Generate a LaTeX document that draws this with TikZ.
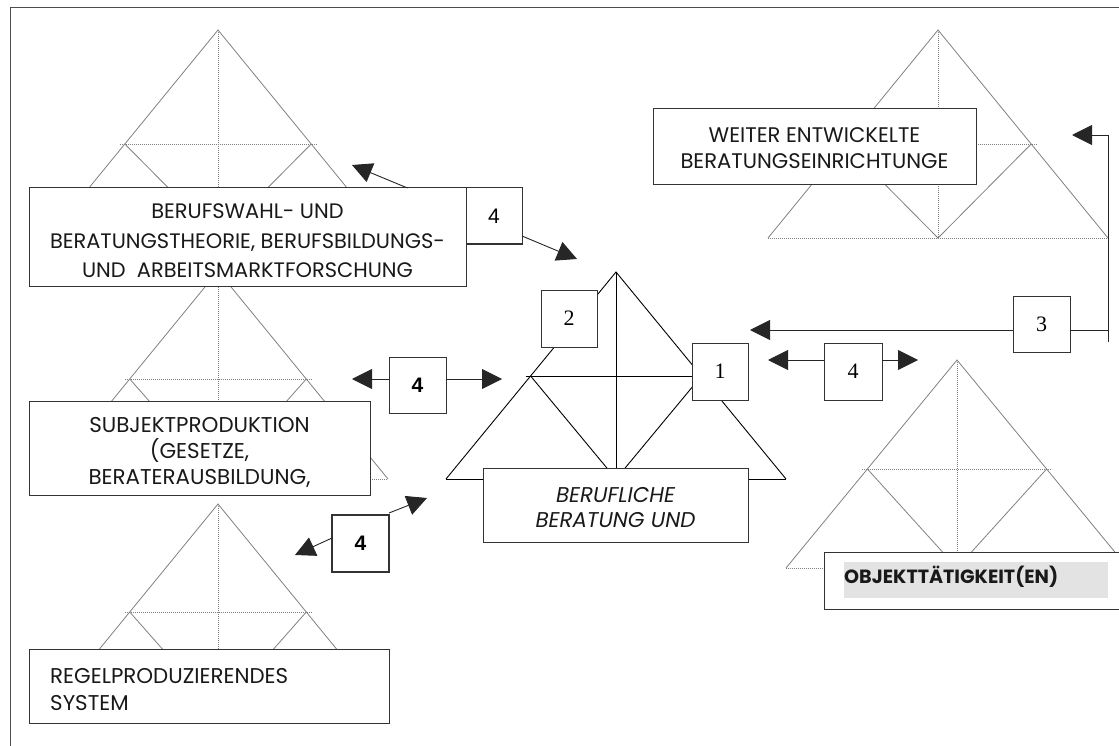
\documentclass[tikz,border=0pt]{standalone}
\usepackage{fontspec}
\setmainfont{Liberation Serif}
\newfontfamily\gothic{Poppins}
\newfontfamily\arialfam{Liberation Sans}
\usetikzlibrary{arrows.meta,calc}

% one pyramid: apex x, apex y, base half-width, height, depth of the cross line,
% style of the outline, style of the inner guide lines
\newcommand\drawpyramid[7]{%
  \pgfmathsetmacro\pmx{#3/#4*#5}%
  \draw[#6] (#1-#3,#2+#4) -- (#1,#2) -- (#1+#3,#2+#4);
  \draw[#6] (#1-\pmx,#2+#5) -- (#1,#2+#4) -- (#1+\pmx,#2+#5);
  \draw[#7] (#1,#2) -- (#1,#2+#4);
  \draw[#7] (#1-\pmx-5,#2+#5) -- (#1+\pmx+5,#2+#5);
  \draw[#7] (#1-#3,#2+#4) -- (#1+#3,#2+#4);
}

% font size (in pt) that gives a sample line a wanted width
\newlength\fitlen
\newcommand\fitsize[4]{%
  \settowidth\fitlen{#2\fontsize{10pt}{10pt}\selectfont #4}%
  \pgfmathsetmacro#1{10*#3/\fitlen}%
  \global\let#1#1%
}
\AtBeginDocument{%
  \fitsize\szA{\gothic}{395}{BERATUNGSTHEORIE, BERUFSBILDUNGS-}%
  \fitsize\szB{\gothic}{222}{BERATERAUSBILDUNG,}%
  \fitsize\szC{\gothic}{238}{REGELPRODUZIERENDES}%
  \fitsize\szD{\gothic\itshape}{160}{BERATUNG UND}%
  \fitsize\szE{\gothic}{268}{BERATUNGSEINRICHTUNGE}%
  \fitsize\szF{\gothic\bfseries}{214}{OBJEKTTÄTIGKEIT(EN)}%
}

\begin{document}
\begin{tikzpicture}[x=1pt,y=-1pt,
  box/.style={draw=black!80, line width=1pt, fill=white, inner sep=0pt,
    outer sep=0pt, anchor=north west},
  txt/.style={inner sep=0pt, text=black!90},
  numbox/.style={box, minimum width=57pt, minimum height=57pt},
  serifnum/.style={font=\fontsize{22}{22}\selectfont},
  sansnum/.style={font=\arialfam\fontsize{21}{21}\selectfont},
  boldnum/.style={font=\arialfam\bfseries\fontsize{21}{21}\selectfont},
  pyrline/.style={draw=black!50, line width=0.8pt},
  pyrdot/.style={draw=black!50, line width=0.8pt, dash pattern=on 1pt off 1pt},
  coreline/.style={draw=black, line width=0.9pt},
  conn/.style={draw=black!85, line width=0.9pt},
  arr/.style={conn, -{Triangle[length=20pt,width=20pt]}},
]
\useasboundingbox (0,0) rectangle (1119,746);
\clip (0,0) rectangle (1119,746);

% page frame
\draw[black!70, line width=1pt] (10,750) -- (10,8) -- (1125,8);

% pyramids
\drawpyramid{218}{30}{170}{208}{114}{pyrline}{pyrdot}
\drawpyramid{218}{271}{170}{208}{108}{pyrline}{pyrdot}
\drawpyramid{218}{504}{170}{208}{108}{pyrline}{pyrdot}
\drawpyramid{938}{30}{170}{208}{114}{pyrline}{pyrdot}
\drawpyramid{957}{360}{171}{208}{109}{pyrline}{pyrdot}
\drawpyramid{616}{272}{170}{207}{104}{coreline}{coreline}

% text boxes
\node[box, minimum width=437pt, minimum height=98pt] (b1) at (29,188) {};
\node[txt, anchor=north, align=center, font=\gothic\fontsize{\szA}{29.5}\selectfont] (b1t) at (247.5,204)
  {BERUFSWAHL- UND\\BERATUNGSTHEORIE, BERUFSBILDUNGS-\\UND\ \ ARBEITSMARKTFORSCHUNG};
\node[box, minimum width=341pt, minimum height=94pt] (b2) at (29,401) {};
\node[txt, anchor=north, align=center, font=\gothic\fontsize{\szB}{26}\selectfont] (b2t) at (199.5,417)
  {SUBJEKTPRODUKTION\\(GESETZE,\\BERATERAUSBILDUNG,};
\node[box, minimum width=360pt, minimum height=74pt] (b3) at (29,649) {};
\node[txt, anchor=north west, align=left, font=\gothic\fontsize{\szC}{27}\selectfont] (b3t) at (50,668)
  {REGELPRODUZIERENDES\\SYSTEM};
\node[box, minimum width=265pt, minimum height=74pt] (bc) at (483,468) {};
\node[txt, anchor=north, align=center, font=\gothic\itshape\fontsize{\szD}{25}\selectfont] (bct) at (615.5,487)
  {BERUFLICHE\\BERATUNG UND};
\node[box, minimum width=323pt, minimum height=76pt] (bw) at (653,109) {};
\node[txt, anchor=north, align=center, font=\gothic\fontsize{\szE}{26}\selectfont] (bwt) at (814.5,127)
  {WEITER ENTWICKELTE\\BERATUNGSEINRICHTUNGE};
\node[box, minimum width=310pt, minimum height=57pt] (bo) at (824,552) {};
\node[anchor=north west, fill=black!11, inner sep=0pt, minimum width=264pt,
  minimum height=36pt] (boh) at (844,562) {};
\node[txt, anchor=base west, font=\gothic\bfseries\fontsize{\szF}{\szF}\selectfont] (bot) at (844,583)
  {OBJEKTTÄTIGKEIT(EN)};

% numbered boxes
\node[numbox, sansnum, minimum width=56pt, minimum height=56pt] (n4a) at (466,188) {4};
\node[numbox, boldnum, minimum height=56pt] (n4b) at (389,357) {4};
\node[numbox, boldnum, line width=2pt] (n4c) at (332,515) {4};
\node[numbox, serifnum, minimum width=56pt] (n2) at (541,290) {2};
\node[numbox, serifnum, minimum width=56pt] (n1) at (692,343) {1};
\node[numbox, serifnum, minimum height=56pt] (n3) at (1013,296) {3};
\node[numbox, serifnum, minimum width=58pt] (n4d) at (824,343) {4};

% arrow ends
\coordinate (t1) at (352,165);
\coordinate (t2) at (577,259);
\coordinate (t3l) at (352,379);
\coordinate (t3r) at (502,379);
\coordinate (t4l) at (295,555);
\coordinate (t4r) at (427,498);
\coordinate (t5l) at (750,330);
\coordinate (c5a) at (1108,330);
\coordinate (c5b) at (1108,342);
\coordinate (c5c) at (1108,135);
\coordinate (t5u) at (1072,135);
\coordinate (t6l) at (768,360);
\coordinate (t6r) at (918,360);

% arrows
\draw[arr] ([xshift=160pt]b1.north) -- (t1);
\draw[arr] ([yshift=8pt]n4a.south east) -- (t2);
\draw[arr] ([yshift=6pt]n4b.west) -- (t3l);
\draw[arr] ([yshift=6pt]n4b.east) -- (t3r);
\draw[arr] ([yshift=5.5pt]n4c.west) -- (t4l);
\draw[arr] ([yshift=2pt]n4c.north east) -- (t4r);
\draw[arr] ([yshift=-6pt]n3.west) -- (t5l);
\draw[conn] ([yshift=-6pt]n3.east) -- (c5a);
\draw[arr] (c5b) -- (c5c) -- (t5u);
\draw[arr] ([yshift=11.5pt]n4d.west) -- (t6l);
\draw[arr] ([yshift=11.5pt]n4d.east) -- (t6r);
\end{tikzpicture}
\end{document}
